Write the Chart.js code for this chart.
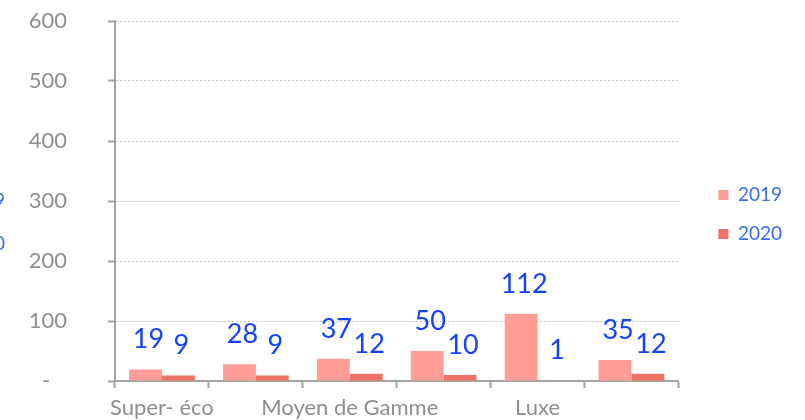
<!DOCTYPE html>
<html>
<head>
<meta charset="utf-8">
<script src="https://cdn.jsdelivr.net/npm/chart.js@4"></script>
<style>
  html, body { margin: 0; padding: 0; background: #fff; }
  #wrap { width: 805px; height: 420px; }
</style>
</head>
<body>
<div id="wrap"><canvas id="chart" width="805" height="420"></canvas></div>
<script>
// Gammes d'hôtels, 2019 vs 2020
const categories = ['Super- éco', '', 'Moyen de Gamme', '', 'Luxe', ''];
const v2019 = [19, 28, 37, 50, 112, 35];
const v2020 = [9, 9, 12, 10, 1, 12];
const yTicks = [0, 100, 200, 300, 400, 500, 600];
const strayLegend = ['2019', '2020'];

const GREY = '#a3a3a3';
const TICK_TXT = '#8e8e8e';

// value labels, drawn ~30px above each bar top
const valueLabels = {
  id: 'valueLabels',
  afterDatasetsDraw(chart) {
    const { ctx } = chart;
    ctx.save();
    ctx.font = '27px Lato';
    ctx.fillStyle = '#1242ff';
    ctx.textAlign = 'center';
    ctx.textBaseline = 'middle';
    chart.data.datasets.forEach((ds, i) => {
      chart.getDatasetMeta(i).data.forEach((bar, j) => {
        ctx.fillText(String(ds.data[j]), bar.x + 3, bar.y - 30);
      });
    });
    ctx.restore();
  },
};

// leftovers of another legend, cut by the left edge
const strayText = {
  id: 'strayText',
  afterDraw(chart) {
    const { ctx } = chart;
    ctx.save();
    ctx.font = '19px Lato';
    ctx.fillStyle = '#3a6cf0';
    ctx.textAlign = 'right';
    ctx.textBaseline = 'middle';
    ctx.fillText(strayLegend[0], 5, 201);
    ctx.fillText(strayLegend[1], 5, 244);
    ctx.restore();
  },
};

// push the legend a bit away from the plot
const legendNudge = {
  id: 'legendNudge',
  afterLayout(chart) {
    const lg = chart.legend;
    if (!lg) return;
    lg.left += 20; lg.right += 20;
    lg.top -= 6; lg.bottom -= 6;
  },
};

new Chart(document.getElementById('chart'), {
  type: 'bar',
  data: {
    labels: categories,
    datasets: [
      { label: '2019', data: v2019, backgroundColor: '#ff9e97', categoryPercentage: 0.7, barPercentage: 1.0 },
      { label: '2020', data: v2020, backgroundColor: '#ee7366', categoryPercentage: 0.7, barPercentage: 1.0 },
    ],
  },
  options: {
    responsive: false,
    animation: false,
    layout: { padding: { top: 21, right: 33, bottom: 0, left: 0 } },
    scales: {
      x: {
        afterFit(scale) { scale.height = 39; },
        grid: { display: true, drawOnChartArea: false, drawTicks: true, tickLength: 7, tickColor: GREY, tickWidth: 2 },
        border: { display: true, color: GREY, width: 2 },
        ticks: { autoSkip: false, maxRotation: 0, padding: 7, color: TICK_TXT, font: { family: 'Lato', size: 22 } },
      },
      y: {
        min: 0,
        max: 600,
        afterBuildTicks(scale) { scale.ticks = yTicks.map((v) => ({ value: v })); },
        afterFit(scale) { scale.width = 115; scale.paddingTop = 0; scale.paddingBottom = 0; },
        grid: { color: '#c4c4c4', lineWidth: 1, tickLength: 7, tickColor: GREY, tickWidth: 2, tickBorderDash: [] },
        border: { display: true, color: GREY, width: 2, dash: [2, 2] },
        ticks: {
          padding: 41,
          color: TICK_TXT,
          font: { family: 'Lato', size: 22 },
          callback: (v) => (v === 0 ? '-   ' : v),
        },
      },
    },
    plugins: {
      legend: {
        position: 'right',
        align: 'center',
        labels: { boxWidth: 10, boxHeight: 10, padding: 20, color: '#3a6ee6', font: { family: 'Lato', size: 19 } },
      },
      tooltip: { enabled: false },
    },
  },
  plugins: [valueLabels, strayText, legendNudge],
});
</script>
</body>
</html>
